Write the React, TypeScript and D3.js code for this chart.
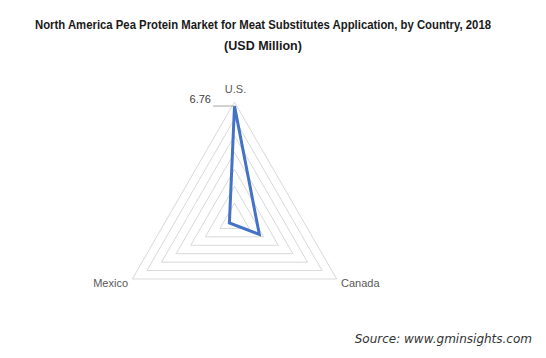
import React from "react";
import * as d3 from "d3";

const categories: string[] = ["U.S.", "Canada", "Mexico"];
const values: number[] = [6.76, 1.7, 0.35];
const gridLevels: number[] = [1, 2, 3, 4, 5, 6, 7];
const dataLabels: string[] = ["6.76", "", ""];

const W = 546;
const H = 358;
const cx = 234.5;
const cy = 220;
const R = 118;

export default function App() {
  const r = d3.scaleLinear().domain([0, 7]).range([0, R]);
  const angle = d3
    .scalePoint<string>()
    .domain(categories)
    .range([0, (2 * Math.PI * (categories.length - 1)) / categories.length]);

  const pt = (cat: string, v: number): [number, number] => {
    const a = (angle(cat) as number) - Math.PI / 2;
    return [cx + r(v) * Math.cos(a), cy + r(v) * Math.sin(a)];
  };

  const line = d3
    .line<[number, number]>()
    .x((d) => d[0])
    .y((d) => d[1])
    .curve(d3.curveLinearClosed);

  const dataPts = categories.map((c, i) => pt(c, values[i]));
  const usPt = dataPts[0];

  const labelFont = "'Liberation Sans', Arial, sans-serif";

  return (
    <svg
      width={W}
      height={H}
      style={{ position: "absolute", left: 0, top: 0, background: "#fff" }}
    >
      <rect width={W} height={H} fill="#fff" />
      <text
        x={263}
        y={29}
        textAnchor="middle"
        fontFamily={labelFont}
        fontWeight="bold"
        fontSize={12.5}
        fill="#1a1a1a"
        textLength={456}
        lengthAdjust="spacingAndGlyphs"
      >
        North America Pea Protein Market for Meat Substitutes Application, by Country, 2018
      </text>
      <text
        x={263}
        y={50}
        textAnchor="middle"
        fontFamily={labelFont}
        fontWeight="bold"
        fontSize={12.5}
        fill="#1a1a1a"
      >
        (USD Million)
      </text>

      {gridLevels.map((lv) => (
        <path
          key={lv}
          d={line(categories.map((c) => pt(c, lv))) || ""}
          fill="none"
          stroke="#d9d9d9"
          strokeWidth={1}
        />
      ))}

      <path
        d={line(dataPts) || ""}
        fill="none"
        stroke="#4472C4"
        strokeWidth={3}
        strokeLinejoin="miter"
      />

      <line
        x1={213}
        y1={usPt[1]}
        x2={usPt[0]}
        y2={usPt[1]}
        stroke="#a6a6a6"
        strokeWidth={1}
      />
      <text
        x={211}
        y={usPt[1] - 3}
        textAnchor="end"
        fontFamily={labelFont}
        fontSize={11}
        fill="#404040"
      >
        {dataLabels[0]}
      </text>

      <text
        x={cx + 1}
        y={93}
        textAnchor="middle"
        fontFamily={labelFont}
        fontSize={11}
        fill="#595959"
      >
        {categories[0]}
      </text>
      <text
        x={341}
        y={287}
        textAnchor="start"
        fontFamily={labelFont}
        fontSize={11}
        fill="#595959"
      >
        {categories[1]}
      </text>
      <text
        x={128}
        y={287}
        textAnchor="end"
        fontFamily={labelFont}
        fontSize={11}
        fill="#595959"
      >
        {categories[2]}
      </text>

      <text
        x={532}
        y={343}
        textAnchor="end"
        fontFamily="'DejaVu Sans', Verdana, sans-serif"
        fontStyle="italic"
        fontSize={12}
        fill="#333"
      >
        Source: www.gminsights.com
      </text>
    </svg>
  );
}
